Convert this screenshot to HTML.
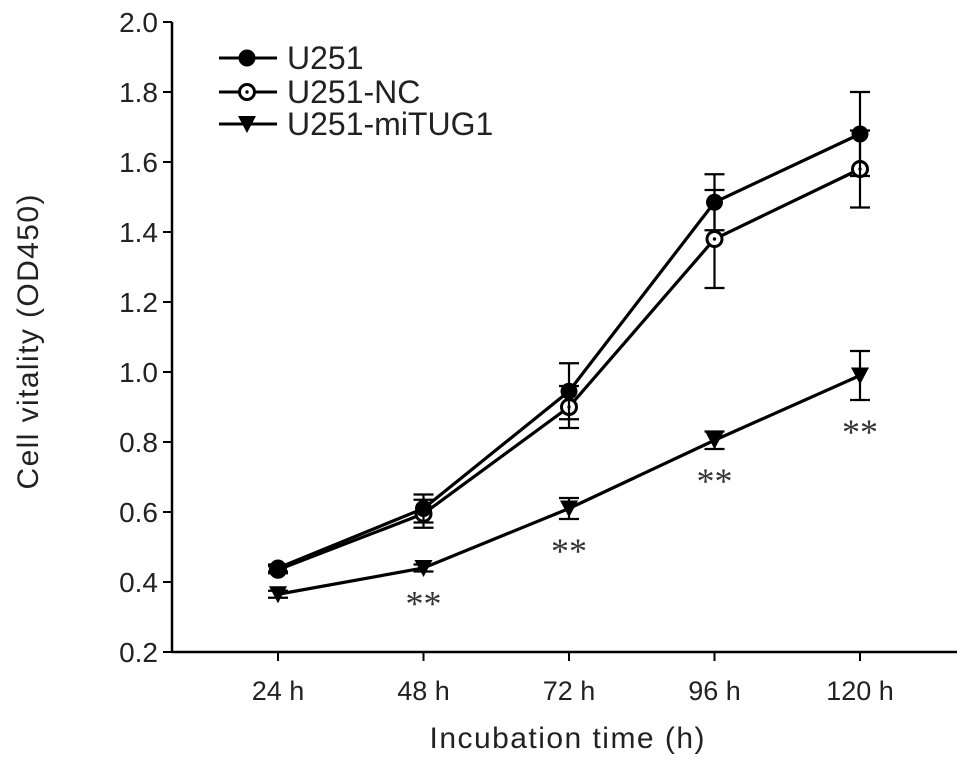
<!DOCTYPE html>
<html><head><meta charset="utf-8"><style>body{margin:0;background:#fff}svg{display:block;font-family:"Liberation Sans",Arial,sans-serif}</style></head>
<body>
<svg id="c" width="970" height="765"></svg>
<script>
const categories=["24 h","48 h","72 h","96 h","120 h"];
const yTicks=[0.2,0.4,0.6,0.8,1.0,1.2,1.4,1.6,1.8,2.0];
const u251=[0.44,0.61,0.945,1.485,1.68];
const u251Err=[0.01,0.04,0.08,0.08,0.12];
const nc=[0.435,0.595,0.90,1.38,1.58];
const ncErr=[0.01,0.04,0.06,0.14,0.11];
const mitug=[0.365,0.44,0.61,0.805,0.99];
const mitugErr=[0.01,0.01,0.03,0.025,0.07];
const sig=["","**","**","**","**"];
const NS="http://www.w3.org/2000/svg",svg=document.getElementById('c');
function el(t,a,p){const e=document.createElementNS(NS,t);for(const k in a)e.setAttribute(k,a[k]);(p||svg).appendChild(e);return e;}
const X0=172,X1=957,Y0=652,Y1=22;
const x=i=>278+i*145.5;
const y=v=>Y0-(v-0.2)/1.8*(Y0-Y1);
let e;
e=el('line',{x1:X0,y1:Y0,x2:X0,y2:Y1,stroke:'#000','stroke-width':2.5});

e=el('line',{x1:X0,y1:Y0,x2:X1,y2:Y0,stroke:'#000','stroke-width':2.5});

yTicks.forEach(v=>{
 el('line',{x1:X0-9,x2:X0,y1:y(v),y2:y(v),stroke:'#000','stroke-width':2});
 e=el('text',{x:X0-14,y:y(v)+10,'text-anchor':'end','font-size':28,fill:'#222'});e.textContent=v.toFixed(1);
 
});
categories.forEach((c,i)=>{
 el('line',{x1:x(i),x2:x(i),y1:Y0,y2:Y0+9,stroke:'#000','stroke-width':2});
 e=el('text',{x:x(i),y:Y0+48,'text-anchor':'middle','font-size':27,fill:'#222'});e.textContent=c;
 
});
e=el('text',{x:567,y:748,'text-anchor':'middle','font-size':30,fill:'#222',textLength:275});e.textContent='Incubation time (h)';

e=el('text',{x:0,y:0,'text-anchor':'middle','font-size':30,fill:'#222',textLength:295,transform:'translate(38,342) rotate(-90)'});e.textContent='Cell vitality (OD450)';

function marker(type,cx,cy,g){
 if(type==='fill')el('circle',{cx,cy,r:8.5,fill:'#000'},g);
 else if(type==='open'){el('circle',{cx,cy,r:7.5,fill:'#fff',stroke:'#000','stroke-width':3},g);el('circle',{cx,cy,r:1.7,fill:'#000'},g);}
 else el('path',{d:`M${cx-9},${cy-8}L${cx+9},${cy-8}L${cx},${cy+9}Z`,fill:'#000'},g);
}
function series(vals,errs,type,name){
 const g=el('g',{});
 el('polyline',{points:vals.map((v,i)=>x(i)+','+y(v)).join(' '),fill:'none',stroke:'#000','stroke-width':3.2},g);
 vals.forEach((v,i)=>{
  const t=y(v+errs[i]),b=y(v-errs[i]);
  el('line',{x1:x(i),x2:x(i),y1:t,y2:b,stroke:'#000','stroke-width':2.2},g);
  el('line',{x1:x(i)-10,x2:x(i)+10,y1:t,y2:t,stroke:'#000','stroke-width':2.2},g);
  el('line',{x1:x(i)-10,x2:x(i)+10,y1:b,y2:b,stroke:'#000','stroke-width':2.2},g);
 });
 vals.forEach((v,i)=>marker(type,x(i),y(v),g));
}
series(mitug,mitugErr,'tri','series-u251-mitug1');
series(nc,ncErr,'open','series-u251-nc');
series(u251,u251Err,'fill','series-u251');
sig.forEach((s,i)=>{if(!s)return;
 e=el('text',{x:x(i),y:y(mitug[i]-mitugErr[i])+44,'text-anchor':'middle','font-size':36,fill:'#333','font-family':'Liberation Serif'});e.textContent=s;
 
});
[["U251",'fill',58],["U251-NC",'open',92],["U251-miTUG1",'tri',124]].forEach(([t,ty,yy])=>{
 const g=el('g',{});
 el('line',{x1:219,x2:277,y1:yy,y2:yy,stroke:'#000','stroke-width':3},g);
 marker(ty,247,yy,g);
 const tx=el('text',{x:287,y:yy+11,'font-size':32,fill:'#222'},g);tx.textContent=t;
});
</script>
</body></html>
